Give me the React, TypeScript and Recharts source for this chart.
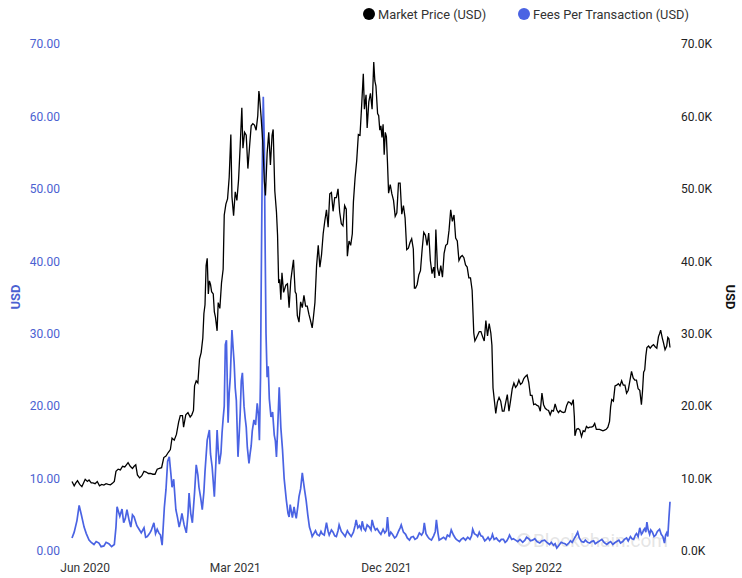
import React from 'react';
import { LineChart, Line, XAxis, YAxis, Customized, Label } from 'recharts';

// x values are day offsets from 8 May 2020
const xTickDays = [24, 297, 572, 846];
const xTickLabels = ['Jun 2020', 'Mar 2021', 'Dec 2021', 'Sep 2022'];
const leftTicks = [0, 10, 20, 30, 40, 50, 60, 70];
const rightTicks = [0, 10, 20, 30, 40, 50, 60, 70];
const seriesNames = ['Market Price (USD)', 'Fees Per Transaction (USD)'];

// [day, thousand USD]
const marketPriceK: [number, number][] = [
  [0, 9.6], [4, 9.0], [7, 9.4], [10, 9.7], [14, 9.2], [18, 8.9], [21, 9.4], [24, 9.9], [28, 9.6], [31, 9.8],
  [35, 9.4], [38, 9.4], [42, 9.3], [46, 9.6], [50, 9.0], [54, 9.2], [58, 9.1], [62, 9.3], [66, 9.2], [70, 9.15],
  [74, 9.4], [77, 9.6], [80, 11.0], [84, 11.3], [88, 11.2], [92, 11.7], [96, 11.6], [99, 11.9], [102, 12.2], [106, 11.7],
  [110, 11.4], [113, 11.7], [116, 11.9], [119, 10.5], [123, 10.1], [127, 10.4], [131, 11.0], [135, 10.9], [139, 10.7], [143, 10.7],
  [147, 10.6], [151, 10.6], [155, 11.3], [159, 11.4], [163, 11.5], [167, 12.9], [171, 13.1], [175, 13.6], [179, 14.0], [182, 15.6],
  [186, 15.3], [190, 16.1], [194, 17.8], [197, 18.7], [201, 18.7], [203, 17.1], [207, 18.8], [211, 19.1], [215, 18.5], [218, 18.8],
  [221, 19.4], [223, 22.8], [226, 23.5], [229, 23.2], [232, 26.5], [235, 27.4], [238, 29.4], [240, 32.8], [242, 34.0], [244, 39.4],
  [246, 40.4], [248, 35.5], [250, 37.3], [252, 36.8], [254, 35.8], [257, 35.5], [259, 33.0], [261, 32.3], [264, 30.4], [266, 34.3],
  [269, 33.5], [272, 37.0], [275, 38.9], [277, 46.4], [280, 47.9], [283, 48.6], [286, 51.6], [289, 57.5], [291, 48.9], [294, 46.3],
  [297, 49.6], [300, 48.4], [303, 51.2], [306, 55.9], [309, 61.2], [311, 55.6], [314, 57.8], [317, 57.4], [320, 52.8], [323, 55.8],
  [326, 58.7], [329, 59.0], [332, 58.8], [335, 58.1], [338, 60.1], [340, 63.5], [341, 62.9], [344, 60.0], [347, 56.5], [350, 51.0],
  [352, 49.1], [355, 54.9], [358, 57.8], [361, 53.3], [364, 57.4], [366, 58.2], [369, 49.7], [372, 46.8], [374, 43.6], [376, 37.0],
  [378, 37.5], [380, 34.7], [382, 38.4], [385, 35.7], [389, 36.7], [392, 36.9], [395, 33.6], [398, 37.3], [401, 39.1], [403, 40.2],
  [406, 35.8], [408, 35.5], [410, 32.5], [413, 31.6], [416, 34.4], [419, 33.6], [422, 35.3], [425, 33.8], [428, 33.8], [431, 32.7],
  [434, 31.8], [437, 30.8], [439, 32.1], [442, 34.3], [445, 39.4], [448, 42.2], [451, 39.2], [454, 40.9], [457, 43.8], [460, 45.6],
  [463, 47.1], [466, 44.7], [469, 49.3], [472, 49.5], [475, 46.9], [478, 48.8], [481, 48.8], [484, 50.0], [487, 46.8], [490, 45.2],
  [493, 44.9], [496, 47.7], [499, 47.2], [501, 40.7], [504, 42.8], [507, 42.2], [510, 43.8], [512, 48.2], [515, 51.5], [518, 53.9],
  [521, 57.5], [524, 57.4], [527, 61.5], [530, 65.9], [532, 61.0], [535, 63.0], [537, 58.4], [540, 62.0], [543, 63.2], [546, 61.0],
  [549, 67.5], [551, 64.9], [553, 64.2], [556, 60.4], [558, 60.1], [560, 58.1], [562, 58.7], [564, 57.1], [566, 58.9], [568, 54.7],
  [570, 57.8], [572, 57.2], [574, 53.6], [576, 49.4], [579, 50.6], [582, 49.3], [585, 48.4], [588, 46.2], [591, 46.7], [594, 50.8],
  [597, 50.8], [600, 46.5], [603, 47.7], [606, 46.0], [609, 41.6], [612, 41.8], [615, 42.6], [618, 43.1], [621, 41.7], [623, 36.3],
  [625, 36.3], [628, 36.8], [631, 38.1], [634, 38.7], [637, 41.6], [640, 44.0], [643, 43.6], [646, 42.2], [649, 43.9], [652, 40.1],
  [655, 38.3], [658, 39.2], [660, 37.7], [662, 44.4], [665, 39.1], [668, 38.0], [671, 39.4], [674, 37.8], [677, 41.1], [680, 42.2],
  [683, 42.4], [686, 44.3], [689, 47.1], [692, 45.5], [695, 46.4], [698, 43.2], [701, 42.8], [704, 40.1], [707, 40.6], [710, 40.8],
  [713, 40.5], [716, 39.5], [719, 39.2], [722, 37.7], [725, 37.7], [728, 36.0], [731, 30.1], [733, 29.0], [735, 29.3], [738, 29.8],
  [741, 30.3], [744, 30.3], [747, 29.6], [750, 29.0], [753, 31.8], [756, 29.7], [759, 31.4], [762, 30.1], [764, 28.4], [766, 22.5],
  [769, 20.4], [771, 19.0], [774, 20.6], [777, 21.2], [780, 20.7], [783, 19.3], [786, 19.3], [789, 20.5], [792, 21.6], [795, 19.3],
  [798, 20.8], [801, 22.4], [804, 23.2], [807, 22.6], [810, 22.9], [813, 23.6], [816, 23.0], [819, 23.2], [822, 23.8], [825, 24.1],
  [828, 24.3], [831, 23.3], [834, 21.5], [837, 21.5], [840, 20.2], [843, 20.3], [846, 20.1], [849, 20.0], [852, 19.3], [855, 21.8],
  [858, 20.2], [861, 19.7], [864, 19.5], [867, 19.4], [870, 18.8], [873, 19.4], [876, 19.3], [879, 20.3], [882, 19.5], [885, 19.1],
  [888, 19.4], [891, 19.2], [894, 19.1], [897, 19.2], [900, 20.1], [903, 20.6], [906, 20.5], [909, 20.2], [912, 20.9], [914, 18.5],
  [915, 15.9], [918, 16.8], [921, 16.9], [924, 16.7], [927, 15.8], [930, 16.6], [933, 16.5], [936, 17.2], [939, 17.0], [942, 17.1],
  [945, 17.1], [948, 17.2], [951, 17.6], [954, 16.8], [957, 16.8], [960, 16.8], [963, 16.7], [966, 16.6], [969, 16.7], [972, 16.8],
  [975, 17.1], [978, 17.9], [980, 19.9], [982, 20.9], [985, 20.7], [988, 22.8], [991, 22.9], [994, 23.1], [997, 22.8], [1000, 23.5],
  [1003, 22.9], [1006, 22.9], [1009, 21.8], [1012, 22.2], [1015, 23.5], [1018, 24.8], [1021, 23.9], [1024, 23.6], [1027, 23.6], [1030, 22.4],
  [1033, 22.2], [1036, 20.2], [1038, 22.1], [1040, 24.7], [1042, 25.0], [1044, 26.9], [1046, 28.1], [1049, 28.3], [1052, 28.0], [1055, 28.3],
  [1058, 28.5], [1061, 28.2], [1064, 28.0], [1067, 29.6], [1069, 30.0], [1071, 30.5], [1074, 29.4], [1076, 28.8], [1079, 27.8], [1082, 28.3],
  [1084, 29.5], [1086, 29.3], [1088, 28.1],
];

// [day, USD]
const feesUsd: [number, number][] = [
  [0, 1.8], [4, 2.6], [9, 4.2], [13, 6.3], [17, 5.0], [22, 3.3], [26, 2.4], [31, 1.5], [35, 1.2], [40, 0.9],
  [44, 1.3], [49, 1.1], [53, 0.6], [58, 0.7], [62, 1.2], [67, 1.0], [72, 0.6], [77, 0.9], [80, 3.3], [82, 6.1],
  [87, 4.8], [91, 5.8], [94, 3.9], [97, 4.5], [100, 5.7], [104, 4.2], [107, 3.3], [110, 5.0], [113, 4.7], [118, 3.5],
  [122, 3.0], [126, 2.5], [131, 3.2], [134, 1.9], [137, 2.0], [141, 2.4], [144, 2.8], [149, 3.9], [152, 2.4], [155, 3.0],
  [158, 2.5], [161, 2.2], [164, 0.8], [168, 6.0], [171, 8.5], [174, 12.4], [177, 13.0], [180, 10.6], [182, 8.8], [185, 9.9],
  [189, 5.7], [192, 4.6], [195, 3.3], [198, 4.3], [200, 5.2], [204, 3.6], [208, 2.5], [211, 5.0], [213, 8.0], [216, 5.2],
  [219, 3.9], [223, 8.1], [226, 11.9], [229, 10.5], [231, 8.8], [234, 7.4], [237, 5.7], [240, 8.2], [242, 11.0], [246, 15.3],
  [250, 16.7], [252, 13.4], [255, 11.6], [259, 7.5], [262, 12.6], [264, 16.7], [266, 14.0], [268, 12.0], [271, 13.5], [273, 16.3],
  [275, 18.3], [277, 20.0], [279, 28.5], [281, 29.1], [284, 17.7], [286, 21.8], [288, 24.0], [291, 30.5], [293, 28.2], [295, 26.0],
  [297, 22.5], [299, 20.8], [301, 15.6], [302, 13.0], [304, 15.8], [306, 19.0], [308, 23.5], [310, 24.6], [313, 20.0], [315, 18.4],
  [317, 17.1], [319, 14.3], [322, 12.1], [324, 13.4], [326, 14.5], [328, 16.6], [331, 18.1], [334, 17.4], [337, 20.4], [339, 19.0],
  [341, 15.3], [343, 24.0], [344, 34.6], [346, 52.0], [348, 62.7], [350, 56.0], [351, 45.0], [353, 30.0], [355, 24.0], [357, 25.5],
  [359, 21.0], [362, 18.5], [365, 19.2], [368, 16.0], [370, 15.2], [372, 13.0], [374, 16.5], [377, 22.6], [380, 17.0], [383, 14.0],
  [386, 10.0], [390, 7.0], [393, 5.2], [395, 4.7], [397, 6.4], [399, 5.5], [401, 4.6], [404, 6.1], [406, 5.2], [408, 4.5],
  [411, 6.2], [413, 7.5], [416, 8.6], [419, 10.8], [421, 9.6], [423, 8.5], [426, 7.0], [429, 5.0], [432, 3.3], [435, 2.6],
  [437, 2.0], [440, 2.4], [443, 2.8], [446, 2.3], [450, 2.1], [453, 2.7], [455, 2.4], [459, 2.2], [463, 3.9], [466, 2.7],
  [468, 2.2], [472, 2.9], [475, 2.6], [478, 2.1], [481, 2.0], [484, 2.8], [486, 3.6], [490, 2.7], [494, 2.3], [497, 2.0],
  [501, 2.8], [504, 2.4], [508, 2.0], [512, 2.6], [515, 3.5], [517, 4.3], [520, 3.2], [523, 3.5], [526, 3.0], [528, 4.1],
  [531, 3.1], [534, 2.8], [537, 3.6], [541, 3.3], [544, 2.9], [546, 4.3], [549, 3.4], [552, 2.9], [555, 3.1], [559, 2.6],
  [562, 2.3], [566, 3.0], [569, 2.5], [572, 2.8], [574, 4.7], [577, 2.0], [580, 2.6], [583, 2.3], [587, 1.8], [590, 2.0],
  [594, 2.7], [597, 3.2], [599, 3.6], [603, 2.6], [607, 2.3], [610, 1.8], [614, 1.5], [617, 1.9], [621, 2.0], [624, 1.6],
  [628, 1.8], [632, 2.5], [636, 2.2], [639, 2.6], [641, 3.9], [644, 2.4], [647, 2.0], [650, 1.7], [654, 1.5], [658, 2.1],
  [661, 2.7], [663, 4.3], [666, 2.4], [668, 1.5], [672, 1.7], [676, 1.9], [680, 1.6], [683, 2.2], [687, 2.0], [690, 2.9],
  [694, 2.2], [698, 1.7], [701, 1.5], [705, 1.3], [708, 1.6], [712, 1.8], [716, 1.5], [720, 1.9], [724, 1.6], [727, 2.1],
  [729, 3.0], [732, 2.4], [736, 2.2], [738, 2.0], [741, 2.6], [744, 2.1], [747, 2.0], [751, 1.4], [754, 1.6], [757, 1.9],
  [760, 1.5], [763, 1.8], [765, 2.3], [768, 1.6], [772, 1.8], [775, 1.5], [778, 1.3], [781, 1.6], [785, 1.6], [788, 1.2],
  [791, 1.4], [794, 1.8], [796, 2.2], [800, 1.6], [803, 1.7], [807, 1.5], [811, 1.3], [815, 1.6], [820, 1.2], [824, 1.5],
  [827, 1.9], [831, 1.7], [834, 1.4], [838, 1.5], [842, 1.7], [846, 1.3], [851, 1.1], [855, 1.4], [860, 1.5], [864, 1.2],
  [869, 0.9], [872, 1.2], [876, 0.8], [879, 1.0], [882, 0.4], [885, 0.7], [887, 0.9], [890, 1.2], [893, 1.1], [897, 1.0],
  [900, 0.8], [904, 1.1], [907, 1.4], [910, 1.2], [913, 1.6], [916, 2.0], [920, 2.6], [923, 1.8], [927, 1.3], [931, 1.2],
  [934, 1.5], [938, 1.2], [942, 1.1], [945, 1.3], [949, 1.4], [952, 1.0], [956, 1.2], [960, 1.4], [964, 1.6], [968, 1.2],
  [973, 0.9], [976, 1.1], [980, 1.3], [984, 0.9], [987, 1.1], [991, 1.3], [995, 1.5], [998, 1.1], [1002, 1.3], [1005, 1.6],
  [1009, 1.8], [1012, 1.4], [1016, 2.0], [1019, 1.7], [1022, 1.6], [1025, 2.2], [1027, 2.4], [1030, 2.0], [1033, 3.2], [1036, 2.3],
  [1038, 2.5], [1040, 2.9], [1042, 3.1], [1044, 2.6], [1046, 4.0], [1048, 3.0], [1051, 2.3], [1053, 2.9], [1056, 2.6], [1059, 2.0],
  [1062, 2.2], [1065, 2.7], [1069, 3.0], [1072, 2.3], [1075, 2.0], [1078, 1.1], [1080, 2.2], [1082, 2.5], [1084, 2.0], [1086, 4.5],
  [1088, 6.8],
];

const priceData = marketPriceK.map(([day, v]) => ({ day, price: v }));
const feeData = feesUsd.map(([day, v]) => ({ day, fee: v }));

const BLUE = '#4a63e3';
const BLUE_TEXT = '#4b61d1';
const FONT = 'Roboto, "Open Sans", Arial, sans-serif';

const formatXTick = (v: number) => {
  const i = xTickDays.indexOf(v);
  return i >= 0 ? xTickLabels[i] : '';
};

const LegendBlock = () => (
  <g fontFamily={FONT} fontSize={12.8}>
    <circle cx={369} cy={14} r={6} fill="#000" />
    <text x={378} y={14} dominantBaseline="central" fill="#333">{seriesNames[0]}</text>
    <circle cx={524} cy={14} r={6} fill={BLUE} />
    <text x={533} y={14} dominantBaseline="central" fill="#333">{seriesNames[1]}</text>
  </g>
);

const Watermark = () => (
  <g opacity={0.3} fontFamily={FONT}>
    <circle cx={524} cy={540} r={6} fill="none" stroke="#aaa" strokeWidth={2} />
    <text x={533} y={547} fontSize={19} fill="#aaa">Blockchain.com</text>
  </g>
);

const LeftTitle = () => (
  <text x={15} y={297} transform="rotate(-90 15 297)" textAnchor="middle" dominantBaseline="central"
    fill={BLUE_TEXT} fontFamily={FONT} fontSize={13} fontWeight="bold">USD</text>
);

const RightTitle = () => (
  <text x={730} y={297} transform="rotate(90 730 297)" textAnchor="middle" dominantBaseline="central"
    fill="#111" fontFamily={FONT} fontSize={13} fontWeight="bold">USD</text>
);

export default function App() {
  return (
    <div style={{ position: 'absolute', left: 0, top: 0, width: 742, height: 578, background: '#fff' }}>
      <LineChart width={742} height={578} margin={{ top: 44, right: 0, bottom: 0, left: 0 }}>
        <Customized component={Watermark} />
        <XAxis
          dataKey="day"
          type="number"
          domain={[0, 1088]}
          ticks={xTickDays}
          interval={0}
          tickFormatter={formatXTick}
          axisLine={false}
          tickLine={false}
          height={27}
          tickMargin={6}
          allowDuplicatedCategory={false}
          tick={{ fill: '#333', fontSize: 12, fontFamily: FONT }}
        />
        <YAxis
          yAxisId="fee"
          orientation="left"
          width={72}
          domain={[0, 70]}
          ticks={leftTicks}
          interval={0}
          tickFormatter={(v: number) => v.toFixed(2)}
          axisLine={false}
          tickLine={false}
          tickMargin={6}
          tick={{ fill: BLUE_TEXT, fontSize: 12, fontFamily: FONT }}
        >
          <Label content={LeftTitle} />
        </YAxis>
        <YAxis
          yAxisId="price"
          orientation="right"
          width={72}
          domain={[0, 70]}
          ticks={rightTicks}
          interval={0}
          tickFormatter={(v: number) => `${v.toFixed(1)}K`}
          axisLine={false}
          tickLine={false}
          tickMargin={5}
          tick={{ fill: '#222', fontSize: 12, fontFamily: FONT }}
        >
          <Label content={RightTitle} />
        </YAxis>
        <Line
          yAxisId="fee"
          data={feeData}
          dataKey="fee"
          name={seriesNames[1]}
          stroke={BLUE}
          strokeWidth={1.7}
          dot={false}
          activeDot={false}
          isAnimationActive={false}
        />
        <Line
          yAxisId="price"
          data={priceData}
          dataKey="price"
          name={seriesNames[0]}
          stroke="#000"
          strokeWidth={1.3}
          dot={false}
          activeDot={false}
          isAnimationActive={false}
        />
        <Customized component={LegendBlock} />
      </LineChart>
    </div>
  );
}
